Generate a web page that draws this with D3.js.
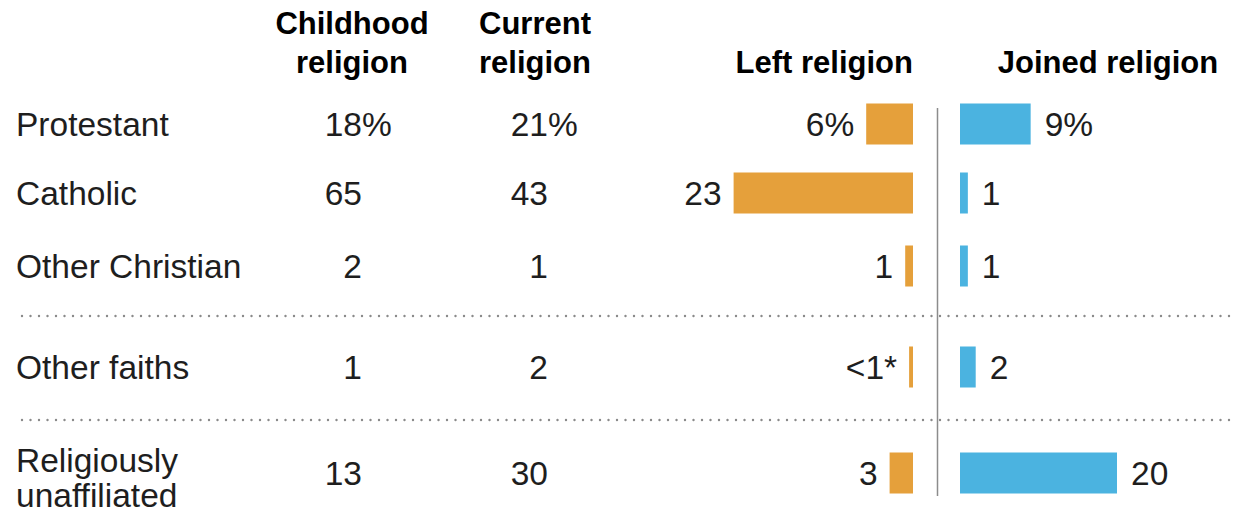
<!DOCTYPE html>
<html>
<head>
<meta charset="utf-8">
<script src="https://cdn.jsdelivr.net/npm/d3@7"></script>
<style>
  html, body { margin: 0; padding: 0; background: #fff; }
  svg { display: block; }
</style>
</head>
<body>
<svg id="chart" width="1235" height="514"></svg>
<script>
// ---- data ----
const categories = ["Protestant", "Catholic", "Other Christian", "Other faiths", "Religiously unaffiliated"];
const childhood = [18, 65, 2, 1, 13];
const current = [21, 43, 1, 2, 30];
const leftReligion = [6, 23, 1, 0.5, 3];
const leftLabels = ["6%", "23", "1", "<1*", "3"];
const joinedReligion = [9, 1, 1, 2, 20];
const joinedLabels = ["9%", "1", "1", "2", "20"];
const headers = {
  childhood: ["Childhood", "religion"],
  current: ["Current", "religion"],
  left: ["Left religion"],
  joined: ["Joined religion"]
};

// ---- layout ----
const W = 1235, H = 514;
const svg = d3.select("#chart");
const bodyFont = "'Liberation Sans', Arial, sans-serif";
const orange = "#E5A03B";
const blue = "#4BB3E0";
const fs = 33.5;

const y = d3.scaleOrdinal().domain(categories).range([124, 193, 266, 367, 473]);
const barH = 41;
const xLeft = d3.scaleLinear().domain([0, 25]).range([913, 913 - 25 * 7.8]);
const xJoin = d3.scaleLinear().domain([0, 25]).range([960, 960 + 25 * 7.85]);

// headers
const hdr = svg.append("g").attr("font-family", bodyFont).attr("font-weight", "bold")
  .attr("font-size", 31).attr("fill", "#000");
function header(lines, x, anchor) {
  const t = hdr.append("text").attr("text-anchor", anchor);
  const base = lines.length === 2 ? 34 : 73;
  lines.forEach((l, i) => t.append("tspan").attr("x", x).attr("y", base + i * 39).text(l));
}
header(headers.childhood, 352, "middle");
header(headers.current, 535, "middle");
header(headers.left, 913, "end");
header(headers.joined, 1108, "middle");

// dotted separators
const seps = [316, 420];
svg.append("g").selectAll("line").data(seps).join("line")
  .attr("x1", 22).attr("x2", W).attr("y1", d => d).attr("y2", d => d)
  .attr("stroke", "#8a8a8a").attr("stroke-width", 2.4)
  .attr("stroke-linecap", "round").attr("stroke-dasharray", "0,8.5");

// vertical divider
svg.append("line").attr("x1", 937.5).attr("x2", 937.5).attr("y1", 108).attr("y2", 496)
  .attr("stroke", "#8c8c8c").attr("stroke-width", 1.5);

const rows = svg.append("g").attr("font-family", bodyFont).attr("font-size", fs).attr("fill", "#1e1e1e");

// row labels
categories.forEach(c => {
  const t = rows.append("text").attr("x", 16);
  if (c === "Religiously unaffiliated") {
    t.append("tspan").attr("x", 16).attr("y", y(c) - 1).text("Religiously");
    t.append("tspan").attr("x", 16).attr("y", y(c) + 34).text("unaffiliated");
  } else {
    t.attr("y", y(c) + 12).text(c);
  }
});

// numeric columns (digits right-aligned, % hanging)
function numCol(vals, xRight) {
  const g = rows.append("g");
  g.selectAll("text.n").data(vals).join("text").attr("class", "n")
    .attr("x", xRight).attr("y", (d, i) => y(categories[i]) + 12)
    .attr("text-anchor", "end")
    .text(d => d);
  g.append("text").attr("x", xRight).attr("y", y(categories[0]) + 12).text("%");
}
numCol(childhood, 362);
numCol(current, 548);

// left religion bars
svg.append("g").selectAll("rect").data(leftReligion).join("rect")
  .attr("x", d => xLeft(d)).attr("width", d => xLeft(0) - xLeft(d))
  .attr("y", (d, i) => y(categories[i]) - barH / 2).attr("height", barH)
  .attr("fill", orange);
rows.append("g").selectAll("text").data(leftReligion).join("text")
  .attr("x", d => xLeft(d) - 12).attr("y", (d, i) => y(categories[i]) + 12)
  .attr("text-anchor", "end").text((d, i) => leftLabels[i]);

// joined religion bars
svg.append("g").selectAll("rect").data(joinedReligion).join("rect")
  .attr("x", xJoin(0)).attr("width", d => xJoin(d) - xJoin(0))
  .attr("y", (d, i) => y(categories[i]) - barH / 2).attr("height", barH)
  .attr("fill", blue);
rows.append("g").selectAll("text").data(joinedReligion).join("text")
  .attr("x", d => xJoin(d) + 14).attr("y", (d, i) => y(categories[i]) + 12)
  .attr("text-anchor", "start").text((d, i) => joinedLabels[i]);
</script>
</body>
</html>
